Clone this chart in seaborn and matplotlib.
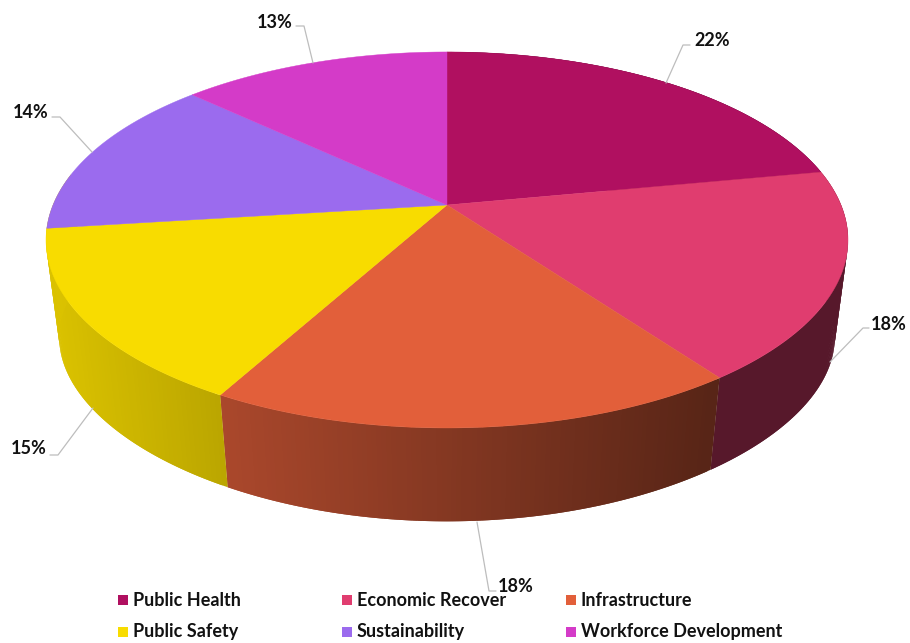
import numpy as np
import matplotlib
matplotlib.use("Agg")
import matplotlib.pyplot as plt
import seaborn as sns

categories = ["Public Health", "Economic Recover", "Infrastructure",
              "Public Safety", "Sustainability", "Workforce Development"]
values = [22, 18, 18, 15, 14, 13]
colors = ["#B01060", "#E03D6F", "#E25F3A", "#F8DC00", "#9B6BEE", "#D43BC8"]

sns.set_theme(style="white")
plt.rcParams["font.family"] = ["Lato", "Open Sans", "DejaVu Sans"]
palette = sns.color_palette(colors)

W, H = 910, 643
fig, ax = plt.subplots(figsize=(W / 100, H / 100), dpi=100)
ax.set_position([0, 0, 1, 1])
ax.set_xlim(0, W)
ax.set_ylim(H, 0)
ax.axis("off")

# perspective projection of the disc and its lower rim
CX, CY, A, B, K = 447, 205, 394, 181.5, 0.186
RIM_SCALE, RIM_Y, RIM_B, RIM_K = 0.967, 306, 167, 0.25


def project(theta, bottom=False):
    sx, cy = np.sin(theta), np.cos(theta)
    w = 1 + K * cy
    u, v = A * sx / w, B * cy / w
    if bottom:
        v = RIM_B * cy / (1 + RIM_K * cy)
        return CX + RIM_SCALE * u, RIM_Y - RIM_SCALE * v
    return CX + u, CY - v


def shade(x):
    return float(np.clip(0.39 + (712 - x) * 0.00074, 0.39, 0.9))


edges = np.cumsum([0] + values) / sum(values) * 2 * np.pi

# side wall: overlapping thin strips for the horizontal light gradient.
# Only the sectors facing the viewer show a wall; the last one wraps the left edge.
for i, col in enumerate(palette[:4]):
    end = edges[i + 1] + (0.3 if i == 3 else 0.0)
    n = max(int(values[i] * 6), 2)
    t = np.linspace(edges[i], end, n + 1)
    xt, yt = project(t)
    xb, yb = project(t, bottom=True)
    for j in range(n):
        k = min(j + 2, n)
        s = shade((xt[j] + xt[j + 1]) / 2)
        c = tuple(s * np.array(col))
        tt = np.linspace(t[j], t[k], 4)
        xa, ya = project(tt)
        xc, yc = project(tt[::-1], bottom=True)
        ax.fill(np.r_[xa, xc], np.r_[ya, yc], facecolor=c, edgecolor="none", lw=0, zorder=1)

# top face
for i, col in enumerate(palette):
    t = np.linspace(edges[i], edges[i + 1], 200)
    x, y = project(t)
    ax.fill(np.r_[CX, x], np.r_[CY, y], color=col, lw=0.3, zorder=2)

# percentage labels with leader lines
label_pos = [(712, 41), (889, 324), (516, 586), (29, 449), (31, 112), (275, 22)]
leaders = [
    [(666, 83), (683, 45), (690, 45)],
    [(830, 362), (863, 328), (869, 328)],
    [(477, 522), (489, 591), (496, 591)],
    [(93, 408), (58, 455), (50, 455)],
    [(92, 152), (60, 117), (52, 117)],
    [(313, 63), (304, 26), (296, 26)],
]
for v, (lx, ly), path in zip(values, label_pos, leaders):
    px, py = zip(*path)
    ax.plot(px, py, color="#BDBDBD", lw=0.9, zorder=3)
    ax.text(lx, ly, f"{v}%", ha="center", va="center", fontsize=13,
            fontweight="bold", color="#111111", zorder=5)

# legend
col_x = [118, 342, 566]
row_y = [600, 632]
for i, (name, col) in enumerate(zip(categories, palette)):
    x, y = col_x[i % 3], row_y[i // 3]
    ax.scatter([x + 5], [y], marker="s", s=62, color=col, linewidths=0, zorder=4)
    ax.text(x + 15, y, name, ha="left", va="center", fontsize=13,
            fontweight="bold", color="#111111", zorder=5)

fig.savefig("out.png", dpi=100, facecolor="white")
